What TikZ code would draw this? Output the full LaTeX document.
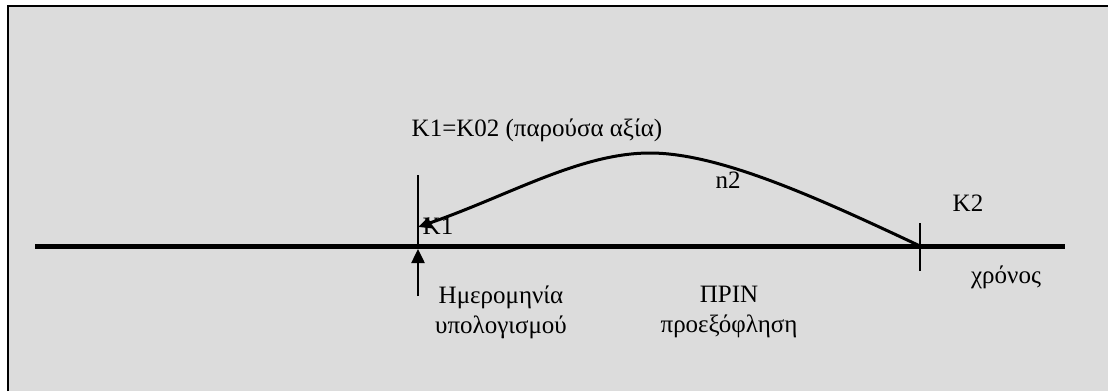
\documentclass[tikz,border=0pt]{standalone}
\usepackage{fontspec}
\setmainfont{Liberation Serif}
\usetikzlibrary{arrows.meta}
\definecolor{bg}{RGB}{220,220,220}
\tikzset{
  lbl/.style={inner sep=0pt, font=\fontsize{25}{30}\selectfont},
  axisline/.style={line width=5pt},
  tickline/.style={line width=1.8pt},
  curveline/.style={line width=3pt, -{Triangle[length=13pt,width=11pt]}},
  uparrow/.style={line width=2.5pt, -{Triangle[length=14pt,width=13pt]}}
}
\begin{document}
\begin{tikzpicture}[x=1pt,y=-1pt]
\useasboundingbox (0,0) rectangle (1108,391);
\fill[bg] (8,6) rectangle (1108,391);
\draw[line width=2pt] (8,391) -- (8,6) -- (1108,6);
% axis
\coordinate (axL) at (35,246);
\coordinate (axR) at (1065,246);
\draw[axisline] (axL) -- (axR);
% ticks
\coordinate (t1top) at (418,175);
\coordinate (t1bot) at (418,246);
\draw[tickline] (t1top) -- (t1bot);
\coordinate (t2top) at (920,223);
\coordinate (t2bot) at (920,271);
\draw[tickline] (t2top) -- (t2bot);
% curve
\coordinate (cstart) at (920,246);
\coordinate (cpeak) at (650,153);
\coordinate (cend) at (418,227);
\draw[curveline] (cstart) .. controls (820,199) and (720,153) .. (cpeak)
  .. controls (580,153) and (508,196) .. (cend);
% up arrow
\coordinate (ua0) at (418,296);
\coordinate (ua1) at (418,249);
\draw[uparrow] (ua0) -- (ua1);
% labels
\node[lbl] (title) at (537,130) {K1=K02 (παρούσα αξία)};
\node[lbl] (k1) at (438,226) {K1};
\node[lbl] (n2) at (728,180) {n2};
\node[lbl] (k2) at (968,203) {K2};
\node[lbl] (xr) at (1006,277) {χρόνος};
\node[lbl, align=center] (hm) at (501,312) {Ημερομηνία\\υπολογισμού};
\node[lbl, align=center] (pr) at (729,312) {ΠΡΙΝ\\προεξόφληση};
\end{tikzpicture}
\end{document}
